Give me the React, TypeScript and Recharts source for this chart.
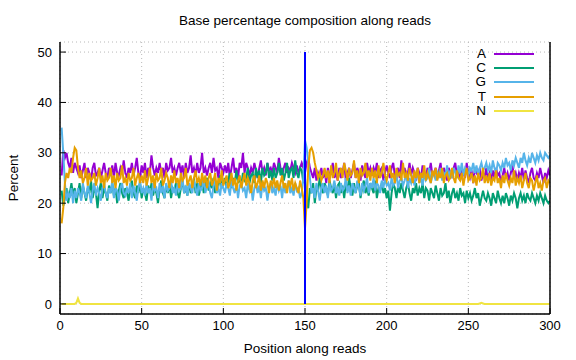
import { LineChart, Line, XAxis, YAxis, CartesianGrid, ReferenceLine } from 'recharts';

// percentages per read position (1..300)
const baseA = [
  25.5, 30.5, 29, 30, 28, 27, 29, 26, 28, 27,
  26, 27.5, 25, 26.5, 28, 25, 27, 26, 24.5, 27,
  28, 25.5, 26, 27, 25, 26.5, 28, 26, 25, 27,
  26, 27.5, 25, 28, 26, 25.5, 27, 26, 28.5, 26,
  25, 27, 26, 28, 25.5, 27, 29, 26, 25, 27.5,
  26, 28, 25, 27, 26, 29.5, 27, 25.5, 27, 26,
  28, 26, 27, 25, 28, 26.5, 27, 29, 26, 27,
  25.5, 27, 28, 26, 27.5, 25, 28, 26, 27, 29.5,
  26, 27, 25.5, 28, 26, 27, 30, 26, 27, 25.5,
  27, 28, 26, 29, 26.5, 27, 25, 28, 27, 26,
  27.5, 26, 28, 25, 27, 29, 26, 27, 25, 28,
  27, 30, 26, 28, 27, 25.5, 27, 26, 28, 26.5,
  25, 27, 28.5, 26, 27, 25.5, 28, 26.5, 27, 26,
  28, 27, 26, 29, 27, 25.5, 27, 28, 26, 27,
  26.5, 28, 27, 26, 27.5, 26, 27, 28, 27, 26,
  28, 29, 27, 26, 25, 27, 24.5, 26, 25, 27,
  25, 26.5, 24, 27, 25.5, 26, 28, 25, 26, 24.5,
  27, 25, 26, 28, 24.5, 26, 27, 25, 26.5, 28,
  25, 27, 26, 24.5, 27.5, 26, 25, 28, 26, 27,
  25.5, 27, 26, 28, 25, 26.5, 27, 24.5, 26, 27.5,
  26, 25, 27, 28, 25.5, 26, 27, 25, 28.5, 26,
  27, 25, 26, 28, 25.5, 27, 26, 24.5, 27, 26,
  25, 27.5, 26, 25, 27, 26, 28, 25.5, 26, 27,
  25, 26.5, 28, 25, 27, 26, 24.5, 27, 26, 25,
  27, 28, 25.5, 26, 24.5, 27, 26, 25, 28, 26,
  25, 26.5, 24, 27, 26, 25.5, 27, 24.5, 26, 25,
  27, 25, 26, 24.5, 26.5, 25, 27, 25.5, 26, 24,
  25.5, 27, 25, 26, 24.5, 26, 27.5, 25, 26, 24.5,
  26, 25, 27, 24.5, 26.5, 25, 24, 26, 27, 25,
  24.5, 26, 25, 27, 25.5, 24, 26, 25, 26.5, 25.5,
];

const baseC = [
  22.5, 19.5, 21, 23, 20, 22, 24, 21.5, 23, 20,
  22, 24, 21, 23.5, 22, 20.5, 23, 22, 24.5, 21,
  23, 22, 19, 22.5, 24, 21, 23, 22, 20.5, 23.5,
  22, 24, 21.5, 23, 20, 22.5, 24, 22, 21, 23,
  22, 20.5, 23, 24.5, 22, 21, 23.5, 22, 24, 21,
  23, 22, 20.5, 23.5, 22, 24, 21.5, 23, 22, 20,
  23, 24.5, 22, 21, 23.5, 22, 24, 21, 23, 22.5,
  24, 22, 21, 23, 24.5, 22, 23, 21.5, 24, 22,
  23, 25, 22, 24, 21.5, 23, 24.5, 22, 23.5, 25,
  22.5, 24, 23, 25, 22, 24, 23.5, 25.5, 23, 24,
  25, 23, 24.5, 26, 23, 25, 24, 26.5, 24, 25,
  23.5, 26, 24.5, 25, 27, 24, 25.5, 26, 24, 27,
  25, 26.5, 24, 27, 25.5, 26, 28, 25, 26.5, 24.5,
  27, 25, 26, 28, 25.5, 27, 24.5, 26, 28, 25,
  26.5, 27, 25, 28.5, 26, 25, 27, 26.5, 24, 25,
  21, 19, 23, 22, 24, 20, 23, 22.5, 25, 23,
  22, 24, 23, 21.5, 24.5, 23, 22, 24, 21, 23.5,
  24, 22, 23.5, 21, 24, 22.5, 25, 23, 21.5, 24,
  22, 23.5, 24, 21, 23, 24.5, 22, 23, 21.5, 24,
  23, 22, 24.5, 21, 23, 22.5, 24, 22, 23, 21,
  22.5, 18.5, 22, 24, 23, 21, 23.5, 22, 24, 22.5,
  21, 23, 24, 22, 20.5, 23, 22, 24, 21.5, 23,
  22, 24, 21, 23, 22.5, 20.5, 23, 22, 21, 23.5,
  22, 20.5, 23, 21.5, 22, 24, 21, 22.5, 20, 22,
  23, 21, 22, 20.5, 23, 21.5, 22, 20, 22.5, 21,
  22, 20.5, 21.5, 23, 21, 22, 19.5, 21, 22.5, 21,
  20.5, 22, 21, 19.5, 22, 21, 20, 22.5, 21, 20,
  21.5, 20, 22, 21, 19.5, 21.5, 20.5, 22, 21, 19,
  21, 22, 20.5, 21.5, 20, 22, 21, 20.5, 22, 21,
  20, 21.5, 20.5, 22, 21, 20, 21.5, 20.5, 20, 20.5,
];

const baseG = [
  35, 30, 24, 20.5, 22, 21, 23, 20, 22.5, 21,
  23, 22, 20.5, 24, 22, 21, 23.5, 22, 20, 22.5,
  24, 21.5, 23, 22, 20.5, 23, 24, 22, 21, 23,
  22, 24.5, 21, 23, 22.5, 20.5, 23, 24, 22, 21.5,
  23, 22, 24, 21, 23.5, 22, 20.5, 23, 24.5, 22,
  23, 21.5, 24, 22, 23, 20.5, 24, 22.5, 23, 21,
  24, 22, 23.5, 21, 24, 22.5, 23, 24.5, 22, 23,
  21.5, 24, 22.5, 23, 25, 22, 23.5, 21.5, 24, 23,
  22, 24.5, 23, 21.5, 24, 22.5, 23, 25, 22, 23.5,
  24, 22, 21, 23.5, 24.5, 22, 23, 21.5, 24, 23,
  22, 24, 23, 21.5, 24.5, 23, 22, 24, 21, 23.5,
  24, 22.5, 23, 21, 24, 22.5, 23.5, 20.5, 23, 24,
  22, 23.5, 21, 24, 22.5, 23, 20.5, 23, 24, 22,
  23, 21.5, 24, 22.5, 23.5, 21, 24, 22, 23, 24.5,
  22, 23, 21.5, 24, 22.5, 23, 21, 22, 25, 32.5,
  31, 28, 25, 22, 23, 21, 24, 22.5, 20.5, 23,
  24, 22, 23.5, 21, 24, 22.5, 23, 24.5, 22, 23,
  21.5, 24, 22.5, 23, 25, 22, 23.5, 21.5, 24, 23,
  22, 24.5, 23, 21.5, 24, 22.5, 23.5, 25, 22, 24,
  23, 25, 22.5, 24, 23.5, 22, 24.5, 23, 25, 23.5,
  24, 22.5, 25, 23.5, 24, 26, 23, 24.5, 25, 23.5,
  24.5, 26, 23, 25, 24, 25.5, 23.5, 25, 26, 24,
  25, 23.5, 26, 24.5, 25, 27, 24, 25.5, 26, 24.5,
  26, 25, 27, 24.5, 26, 25.5, 27.5, 25, 26.5, 25,
  27, 26, 25, 27.5, 26, 28, 25.5, 27, 26.5, 25.5,
  27, 26.5, 28, 26, 27.5, 25.5, 27, 28, 26.5, 27,
  28, 26.5, 27.5, 26, 28.5, 27, 26, 28, 27.5, 26.5,
  28, 27, 29, 27.5, 28, 26.5, 28.5, 27.5, 29, 28,
  27, 29, 28, 30, 28.5, 27.5, 29, 28, 30, 29,
  28, 29.5, 28.5, 30, 29, 28.5, 30, 29.5, 29, 29.5,
];

const baseT = [
  16, 19, 24, 26, 25, 27, 26, 29, 31, 30.5,
  27, 25, 26.5, 24, 25, 27, 23.5, 26, 24.5, 25,
  26, 23.5, 25, 27, 24, 25.5, 23, 26, 24.5, 25,
  27, 24, 25.5, 23, 26, 24.5, 25, 27.5, 24, 25,
  23.5, 26, 24.5, 25, 27, 23.5, 25, 26, 24, 25.5,
  24, 26.5, 23.5, 25, 27, 24, 25.5, 23, 26, 24.5,
  25, 27, 23.5, 24.5, 26, 25, 23, 25.5, 24, 26.5,
  24, 25, 23, 26, 24.5, 25, 27, 23.5, 24.5, 25.5,
  23, 25, 26.5, 24, 25, 23.5, 26, 24, 25.5, 23,
  25, 26, 23.5, 24.5, 26, 22.5, 25, 24, 26.5, 23.5,
  24.5, 25.5, 23, 24, 26, 23.5, 25, 22.5, 24.5, 25.5,
  23, 24.5, 26, 23.5, 25, 24, 22, 24.5, 25.5, 23,
  24, 25.5, 22.5, 24.5, 23, 25, 24, 22, 24.5, 23.5,
  25, 23, 24.5, 22.5, 24, 25.5, 23, 24, 22, 24.5,
  23.5, 25, 22.5, 24, 23, 22, 24.5, 23, 21, 15,
  20, 27, 30.5, 31, 30, 28, 26.5, 25, 26, 24.5,
  25.5, 27, 25, 26.5, 24, 27.5, 25, 26, 28, 24.5,
  26, 27, 25, 28, 26.5, 24.5, 27, 25.5, 26, 28.5,
  25, 26.5, 24, 27, 25.5, 26, 28, 25, 26.5, 24.5,
  27, 25, 26.5, 24, 27.5, 25, 26, 28, 25.5, 24.5,
  26, 27.5, 25, 26, 24, 27, 25.5, 26, 24.5, 28,
  25, 26, 24.5, 27, 25.5, 24, 26.5, 25, 27, 24,
  26, 25, 27.5, 24.5, 26, 25, 24, 26.5, 25.5, 27,
  24.5, 26, 25, 27, 24, 25.5, 26, 24.5, 25, 27,
  25, 24, 26.5, 25, 24.5, 26, 23.5, 25.5, 27, 24.5,
  25, 26, 24, 25.5, 23.5, 26, 24.5, 25, 27, 24,
  25.5, 24, 26, 23.5, 25, 24.5, 26.5, 24, 25, 23,
  25.5, 24, 26, 24.5, 23.5, 25, 24, 26.5, 23.5, 25,
  24, 25.5, 23, 24.5, 26, 24, 23, 25, 24.5, 22.5,
  24, 25.5, 23, 24, 22.5, 24.5, 25, 23, 24.5, 24,
];

// N stays at 0 except these positions
const nPeaks: Record<number, number> = { 10: 0.2, 11: 1.1, 12: 0.2, 257: 0.1, 258: 0.2, 259: 0.1 };

const xTicks = [0, 50, 100, 150, 200, 250, 300];
const yTicks = [0, 10, 20, 30, 40, 50];
const split = [{ x: 150, y: 0 }, { x: 150, y: 50 }];

const series = [
  { key: 'A', color: '#9400d3' },
  { key: 'C', color: '#009e73' },
  { key: 'G', color: '#56b4e9' },
  { key: 'T', color: '#e69f00' },
  { key: 'N', color: '#f0e442' },
];

const data = baseA.map((a, i) => ({
  pos: i + 1,
  A: a,
  C: baseC[i],
  G: baseG[i],
  T: baseT[i],
  N: nPeaks[i + 1] ?? 0,
}));

const FONT = '"Liberation Sans", Arial, sans-serif';
const tickStyle = { fill: '#000', fontSize: 13, fontFamily: FONT };
const textStyle = { fontFamily: FONT, fontSize: 13.5, lineHeight: '16px' };

export default function App() {
  return (
    <div style={{ position: 'relative', width: 576, height: 360, background: '#fff' }}>
      <style>{'body{margin:0}'}</style>
      <LineChart width={576} height={360} data={data} margin={{ top: 42, right: 0, bottom: 16, left: 0 }} style={{ position: 'absolute', left: 0, top: 0 }}>
        <CartesianGrid stroke="#b8b8b8" strokeDasharray="1 3" />
        <XAxis dataKey="pos" type="number" domain={[0, 300]} ticks={xTicks} allowDataOverflow height={30}
          tickSize={-6} tickMargin={13} tick={tickStyle} stroke="#000" axisLine={{ stroke: '#000', strokeWidth: 1.5 }} />
        <XAxis xAxisId="top" orientation="top" type="number" domain={[0, 300]} ticks={xTicks} allowDataOverflow height={0}
          tickSize={-6} tick={false} stroke="#000" axisLine={{ stroke: '#000', strokeWidth: 1.5 }} />
        <YAxis type="number" domain={[-2, 52]} ticks={yTicks} allowDataOverflow width={60}
          tickSize={-6} tickMargin={14} tick={tickStyle} stroke="#000" axisLine={{ stroke: '#000', strokeWidth: 1.5 }} />
        <YAxis yAxisId="right" orientation="right" type="number" domain={[-2, 52]} ticks={yTicks} allowDataOverflow width={26}
          tickSize={-6} tick={false} stroke="#000" axisLine={{ stroke: '#000', strokeWidth: 1.5 }} />
        {series.map((s) => (
          <Line key={s.key} dataKey={s.key} name={s.key} stroke={s.color} strokeWidth={2} dot={false}
            isAnimationActive={false} strokeLinejoin="miter" />
        ))}
        <ReferenceLine segment={split} stroke="#0000ff" strokeWidth={2} ifOverflow="visible" />
      </LineChart>
      <div style={{ ...textStyle, position: 'absolute', left: 0, width: 610, top: 13, textAlign: 'center' }}>
        Base percentage composition along reads
      </div>
      <div style={{ ...textStyle, position: 'absolute', left: 0, width: 610, top: 341, textAlign: 'center' }}>
        Position along reads
      </div>
      <div style={{ ...textStyle, position: 'absolute', left: 14, top: 178, transform: 'translate(-50%, -50%) rotate(-90deg)', whiteSpace: 'nowrap' }}>
        Percent
      </div>
      <div style={{ ...textStyle, position: 'absolute', left: 466, top: 47 }}>
        {series.map((s) => (
          <div key={s.key} style={{ display: 'flex', alignItems: 'center', height: 14.2 }}>
            <span style={{ width: 20, textAlign: 'right', lineHeight: '14px' }}>{s.key}</span>
            <span style={{ width: 40, height: 2, marginLeft: 8, background: s.color }} />
          </div>
        ))}
      </div>
    </div>
  );
}
